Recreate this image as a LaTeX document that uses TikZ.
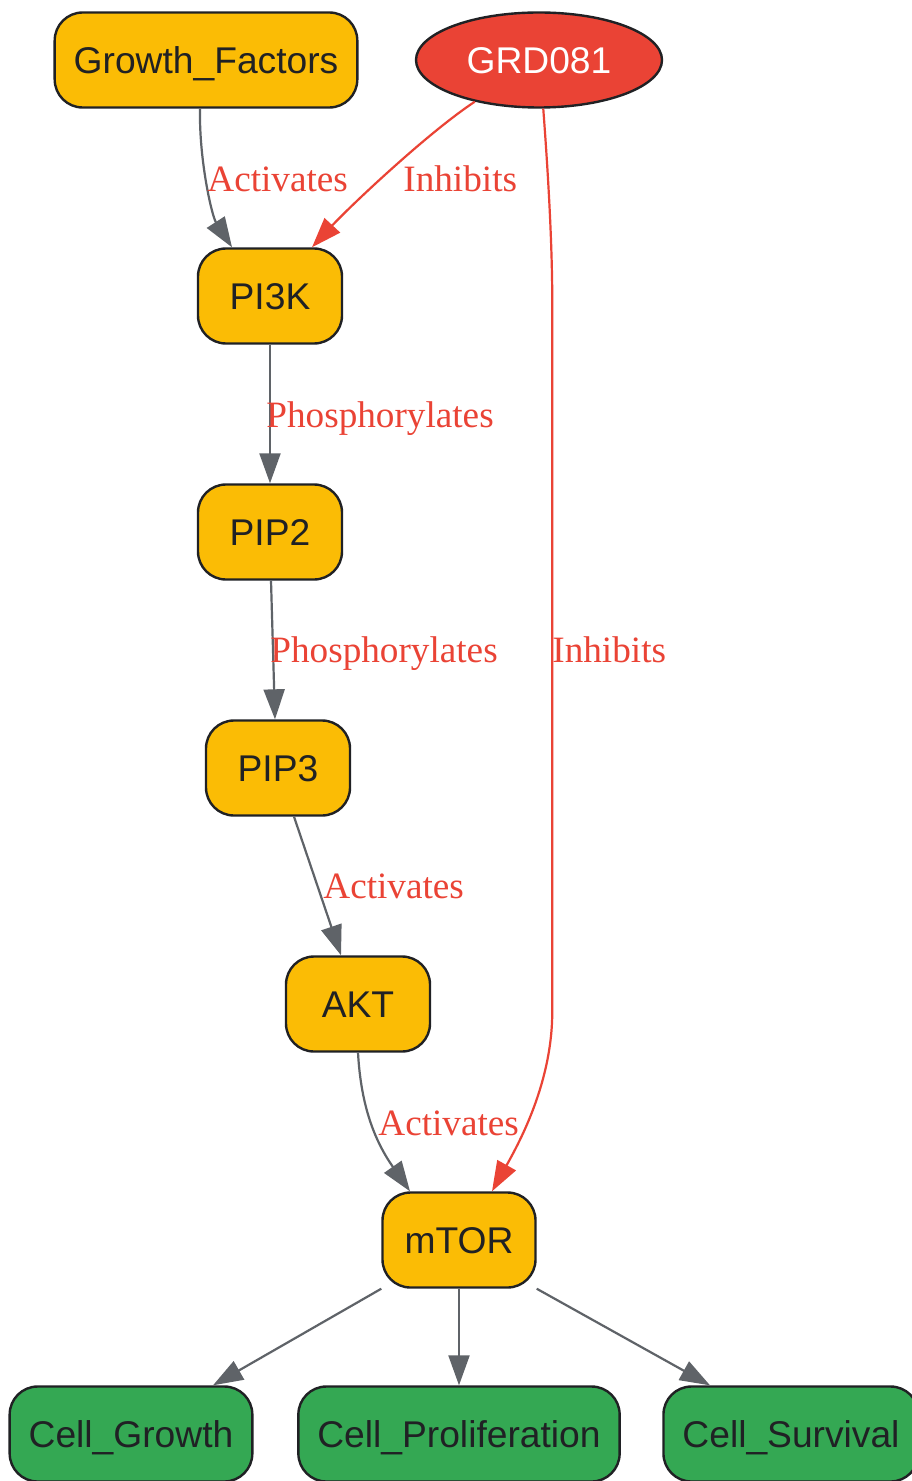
\documentclass[tikz,border=0pt]{standalone}
\usepackage{fontspec}
\setmainfont{Liberation Serif}
\setsansfont{Liberation Sans}
\usetikzlibrary{shapes.geometric,arrows.meta}
\definecolor{gyellow}{HTML}{FBBC05}
\definecolor{gred}{HTML}{EA4335}
\definecolor{ggreen}{HTML}{34A853}
\definecolor{ggray}{HTML}{5F6368}
\definecolor{gdark}{HTML}{202124}
\begin{document}
\begin{tikzpicture}[x=0.5pt,y=-0.5pt,
	every node/.style={font=\sffamily\fontsize{18.6}{22}\selectfont,text=gdark},
	box/.style={draw=gdark,line width=1.2pt,rounded corners=14pt,minimum width=72pt,minimum height=47.5pt,inner xsep=9.5pt,text height=13.3pt,text depth=0pt},
	pathway/.style={box,fill=gyellow},
	outcome/.style={box,fill=ggreen},
	drug/.style={ellipse,draw=gdark,line width=1.2pt,fill=gred,text=white,minimum width=123pt,minimum height=47.5pt,inner sep=0pt,text height=13.3pt,text depth=0pt},
	act/.style={-{Triangle[length=15pt,width=10.5pt]},draw=ggray,line width=1.1pt},
	inh/.style={act,draw=gred},
	lbl/.style={font=\rmfamily\fontsize{18.6}{22}\selectfont,text=gred,anchor=base west,inner sep=0pt}]
\useasboundingbox (0,0) rectangle (911,1481);
\fill[white] (0,0) rectangle (911,1481);
\node[pathway] (gf) at (206,60) {Growth\_Factors};
\node[drug] (grd) at (539,60) {GRD081};
\node[pathway] (pik) at (270,296) {PI3K};
\node[pathway] (pip2) at (270,532) {PIP2};
\node[pathway] (pip3) at (278,768) {PIP3};
\node[pathway] (akt) at (358,1004) {AKT};
\node[pathway,minimum width=76.5pt] (mtor) at (459,1240) {mTOR};
\node[outcome] (cg) at (131,1434) {Cell\_Growth};
\node[outcome] (cp) at (459,1434) {Cell\_Proliferation};
\node[outcome] (cs) at (791,1434) {Cell\_Survival};
% signalling chain
\draw[act] ([xshift=-3pt]gf.south) .. controls +(-1,52) and +(-20,-31) .. ([xshift=-19pt]pik.north);
\draw[act] (pik.south) -- (pip2.north);
\draw[act] ([xshift=0.5pt]pip2.south) -- ([xshift=-1.5pt]pip3.north);
\draw[act] ([xshift=8pt]pip3.south) -- ([xshift=-8.5pt]akt.north);
\draw[act] (akt.south) .. controls +(3,54) and +(-35,-50) .. ([xshift=-24.5pt]mtor.north);
\draw[act] (mtor.south west) -- ([xshift=41pt]cg.north);
\draw[act] (mtor.south) -- (cp.north);
\draw[act] (mtor.south east) -- ([xshift=-40.5pt]cs.north);
% inhibitor
\draw[inh] (grd.213) .. controls +(-47,31) and +(38,-41) .. ([xshift=21pt]pik.north);
\draw[inh] (grd.275) .. controls +(7,93) and +(0,-40) .. ++(9,193) -- ++(0,710) .. controls +(0,70) and +(28,-50) .. ([xshift=16.5pt]mtor.north);
% edge labels
\node[lbl] (l1) at (207,192) {Activates};
\node[lbl] (l2) at (403,192) {Inhibits};
\node[lbl] (l3) at (266,427) {Phosphorylates};
\node[lbl] (l4) at (270,662) {Phosphorylates};
\node[lbl] (l5) at (552,662) {Inhibits};
\node[lbl] (l6) at (323,898) {Activates};
\node[lbl] (l7) at (378,1135) {Activates};
\end{tikzpicture}
\end{document}
